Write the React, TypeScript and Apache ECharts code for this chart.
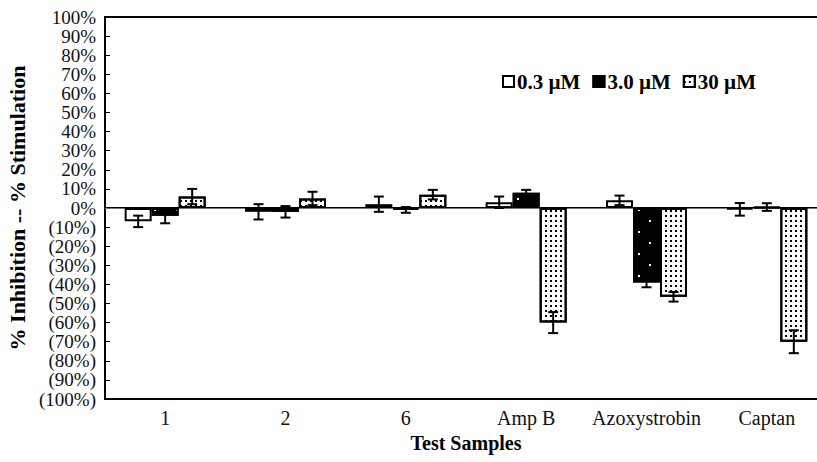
import React, { useEffect, useRef } from "react";
import * as echarts from "echarts";

const categories = ["1", "2", "6", "Amp B", "Azoxystrobin", "Captan"];
const seriesNames = ["0.3 µM", "3.0 µM", "30 µM"];
const lowValues = [-7, -2, 2, 3, 4, -0.7];
const midValues = [-4, -2, -1, 8, -39, 0.5];
const highValues = [6, 5, 7, -60, -46.5, -70];
const lowErrors = [3, 4, 4, 3, 2.5, 3.3];
const midErrors = [4, 3, 1.5, 1.5, 2.5, 2];
const highErrors = [4, 3.5, 2.5, 5.5, 2.5, 6];

const FONT = "'Liberation Serif', 'Times New Roman', serif";
const BAR_W = 27;

export default function App() {
  const ref = useRef<HTMLDivElement>(null);

  useEffect(() => {
    if (!ref.current) return;
    const chart = echarts.init(ref.current, null, { renderer: "svg" });

    const valueSets = [lowValues, midValues, highValues];
    const errorSets = [lowErrors, midErrors, highErrors];
    const errData: number[][] = [];
    valueSets.forEach((vals, s) => {
      vals.forEach((v, i) => {
        errData.push([i, v, errorSets[s][i], s - 1]);
      });
    });

    const baseBar = {
      type: "bar",
      barWidth: BAR_W,
      barGap: "0%",
      z: 2,
    };

    const option: any = {
      animation: false,
      backgroundColor: "#fff",
      grid: {
        left: 105,
        right: -10,
        top: 17,
        bottom: 63,
        show: true,
        borderColor: "#000",
        borderWidth: 2,
        containLabel: false,
        outerBoundsMode: "none",
      },
      legend: {
        left: 497,
        top: 66,
        itemWidth: 11,
        itemHeight: 11,
        itemGap: 12,
        icon: "rect",
        textStyle: {
          fontFamily: FONT,
          fontWeight: "bold",
          fontSize: 21,
          color: "#000",
          padding: [0, 0, 0, -2],
        },
        data: seriesNames,
      },
      xAxis: {
        type: "category",
        data: categories,
        name: "Test Samples",
        nameLocation: "middle",
        nameGap: 32,
        nameTextStyle: {
          fontFamily: FONT,
          fontWeight: "bold",
          fontSize: 20,
          color: "#000",
        },
        axisLine: { lineStyle: { color: "#000", width: 2 } },
        axisTick: { show: false },
        axisLabel: {
          interval: 0,
          fontFamily: FONT,
          fontSize: 20,
          color: "#111",
          margin: 9,
        },
        splitLine: { show: false },
      },
      yAxis: {
        type: "value",
        min: -100,
        max: 100,
        interval: 10,
        name: "% Inhibition -- % Stimulation",
        nameLocation: "middle",
        nameGap: 70,
        nameTextStyle: {
          fontFamily: FONT,
          fontWeight: "bold",
          fontSize: 22,
          color: "#000",
        },
        axisLine: { show: true, lineStyle: { color: "#000", width: 2 } },
        axisTick: {
          show: true,
          inside: true,
          length: 5,
          lineStyle: { color: "#000", width: 1 },
        },
        splitLine: { show: false },
        axisLabel: {
          showMinLabel: true,
          showMaxLabel: true,
          hideOverlap: false,
          fontFamily: FONT,
          fontSize: 19,
          lineHeight: 18,
          color: "#111",
          margin: 9,
          formatter: (v: number) => (v < 0 ? `(${-v}%)` : `${v}%`),
        },
      },
      series: [
        {
          ...baseBar,
          name: seriesNames[0],
          data: lowValues,
          itemStyle: { color: "#fff", borderColor: "#000", borderWidth: 2 },
          markLine: {
            silent: true,
            symbol: ["none", "none"],
            label: { show: false },
            lineStyle: { color: "#777", width: 1, type: "solid" },
            data: [{ yAxis: 0 }],
            z: 1,
          },
        },
        {
          ...baseBar,
          name: seriesNames[1],
          data: midValues,
          itemStyle: {
            color: "#000",
            borderColor: "#000",
            borderWidth: 2,
            decal: {
              symbol: "rect",
              symbolSize: 1,
              color: "#fff",
              dashArrayX: [
                [2, 20],
                [0, 11, 2, 9],
              ],
              dashArrayY: [2, 8.7],
              rotation: 0,
            },
          },
        },
        {
          ...baseBar,
          name: seriesNames[2],
          data: highValues,
          itemStyle: {
            color: "#fff",
            borderColor: "#000",
            borderWidth: 2,
            decal: {
              symbol: "rect",
              symbolSize: 1,
              color: "#000",
              dashArrayX: [2, 2.6],
              dashArrayY: [2, 2.6],
              rotation: 0,
            },
          },
        },
        {
          type: "custom",
          name: "errors",
          data: errData,
          encode: { x: 0, y: 1 },
          z: 5,
          silent: true,
          renderItem: (params: any, api: any) => {
            const cat = api.value(0);
            const v = api.value(1);
            const e = api.value(2);
            const off = api.value(3);
            const top = api.coord([cat, v + e]);
            const bot = api.coord([cat, v - e]);
            const x = top[0] + off * BAR_W;
            const cap = 5;
            const style = { stroke: "#000", lineWidth: 2 };
            return {
              type: "group",
              children: [
                { type: "line", shape: { x1: x, y1: top[1], x2: x, y2: bot[1] }, style },
                { type: "line", shape: { x1: x - cap, y1: top[1], x2: x + cap, y2: top[1] }, style },
                { type: "line", shape: { x1: x - cap, y1: bot[1], x2: x + cap, y2: bot[1] }, style },
              ],
            };
          },
        },
      ],
    };

    chart.setOption(option);
    return () => chart.dispose();
  }, []);

  return (
    <div
      ref={ref}
      style={{ width: 817, height: 462, position: "absolute", left: 0, top: 0 }}
    />
  );
}
